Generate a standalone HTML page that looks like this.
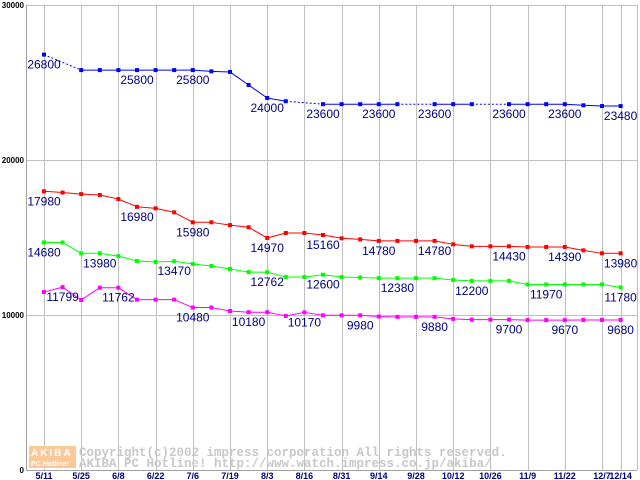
<!DOCTYPE html>
<html><head><meta charset="utf-8"><style>
body{margin:0;background:#fff;width:640px;height:480px;overflow:hidden}
svg{display:block}
</style></head><body>
<svg id="chart" width="640" height="480" xmlns="http://www.w3.org/2000/svg" font-family="Liberation Sans, sans-serif"></svg>
<script>
const xLabels=["5/11","5/25","6/8","6/22","7/6","7/19","8/3","8/16","8/31","9/14","9/28","10/12","10/26","11/9","11/22","12/7","12/14"];
const xLabelIdx=[0,2,4,6,8,10,12,14,16,18,20,22,24,26,28,30,31];
const yTicks=[0,10000,20000,30000];
const blue=[26800,null,25800,25800,25800,25800,25800,25800,25800,25720,25680,24840,24000,23790,null,23600,23600,23600,23600,23600,null,23600,23600,23600,null,23600,23600,23600,23600,23530,23480,23480];
const red=[17980,17900,17800,17740,17480,16980,16880,16620,15980,15980,15800,15660,14970,15290,15290,15160,14950,14880,14780,14780,14780,14780,14560,14430,14430,14430,14390,14390,14390,14170,13980,13980];
const green=[14680,14680,13980,13980,13800,13480,13420,13470,13290,13160,12970,12770,12762,12450,12450,12600,12450,12420,12380,12380,12380,12380,12260,12200,12200,12200,11970,11970,11970,11970,11970,11780];
const magenta=[11480,11799,10970,11762,11762,10990,10990,10990,10480,10480,10260,10180,10180,9940,10170,9980,9980,9980,9900,9880,9880,9880,9750,9700,9700,9700,9670,9670,9670,9680,9680,9680];
const blueLabelIdx=[0,5,8,12,15,18,21,25,28,31];
const blueLabels=["26800","25800","25800","24000","23600","23600","23600","23600","23600","23480"];
const redLabelIdx=[0,5,8,12,15,18,21,25,28,31];
const redLabels=["17980","16980","15980","14970","15160","14780","14780","14430","14390","13980"];
const greenLabelIdx=[0,3,7,12,15,19,23,27,31];
const greenLabels=["14680","13980","13470","12762","12600","12380","12200","11970","11780"];
const magentaLabelIdx=[1,4,8,11,14,17,21,25,28,31];
const magentaLabels=["11799","11762","10480","10180","10170","9980","9880","9700","9670","9680"];

const NS="http://www.w3.org/2000/svg";
const svg=document.getElementById('chart');
const X=i=>44+i*18.6;
const Y=v=>470-v*0.0155;
function mk(t,a,parent){const e=document.createElementNS(NS,t);for(const k in a)e.setAttribute(k,a[k]);(parent||svg).appendChild(e);return e;}

// grid
const grid=mk('g',{'shape-rendering':'crispEdges'});


xLabelIdx.forEach(i=>{mk('line',{x1:Math.round(X(i))+0.5,x2:Math.round(X(i))+0.5,y1:5,y2:470,stroke:'#c0c0c0','stroke-width':1},grid);});
mk('line',{x1:637.5,x2:637.5,y1:5,y2:470,stroke:'#c0c0c0'},grid);
yTicks.forEach(v=>{mk('line',{x1:26,x2:637,y1:Math.round(Y(v))+0.5,y2:Math.round(Y(v))+0.5,stroke:'#c0c0c0'},grid);});
mk('line',{x1:26.5,x2:26.5,y1:5,y2:470,stroke:'#a0a0a0'},grid);

// watermark
const wm=mk('g',{});


mk('rect',{x:29,y:446,width:47,height:22,fill:'#fbc89a'},wm);
let t=mk('text',{x:31,y:456,'font-size':10,'font-weight':'bold',fill:'#fff','letter-spacing':2},wm);t.textContent='AKIBA';
t=mk('text',{x:31,y:466,'font-size':7,'font-weight':'bold',fill:'#fff'},wm);t.textContent='PC Hotline!';
t=mk('text',{x:79,y:456,'font-size':12.5,'font-family':'Liberation Mono, monospace','font-weight':'bold',fill:'#c8c8c8'},wm);t.textContent='Copyright(c)2002 impress corporation All rights reserved.';
t=mk('text',{x:79,y:467,'font-size':12.5,'font-family':'Liberation Mono, monospace','font-weight':'bold',fill:'#c8c8c8'},wm);t.textContent='AKIBA PC Hotline!  http://www.watch.impress.co.jp/akiba/';

// axes labels
mk('line',{x1:26,x2:637,y1:470.5,y2:470.5,stroke:'#a0a0a0','shape-rendering':'crispEdges'});
yTicks.forEach(v=>{const e=mk('text',{x:24,y:Y(v)+3,'font-size':8,'font-weight':'bold','text-anchor':'end',fill:'#000'});e.textContent=v;

});
xLabels.forEach((s,k)=>{const e=mk('text',{x:X(xLabelIdx[k]),y:479,'font-size':9,'font-weight':'bold','text-anchor':'middle',fill:'#000080'});e.textContent=s;

});

function series(data,color,name,lIdx,lTxt){
  const g=mk('g',{});
  
  
  let prev=null;
  data.forEach((v,i)=>{
    if(v==null)return;
    if(prev!=null){
      const a={x1:X(prev),y1:Y(data[prev]),x2:X(i),y2:Y(v),stroke:color,'stroke-width':1};
      if(i-prev>1)a['stroke-dasharray']='2,2';
      mk('line',a,g);
    }
    prev=i;
  });
  data.forEach((v,i)=>{
    if(v==null)return;
    const p=mk('rect',{x:X(i)-2,y:Y(v)-2,width:4,height:4,fill:color},g);
    
    
  });
  lIdx.forEach((i,k)=>{
    const e=mk('text',{x:X(i),y:Y(data[i])+14,'font-size':12,'text-anchor':'middle',fill:'#000080'},g);
    e.textContent=lTxt[k];
    
    
  });
}
series(blue,'#0000ff','blue',blueLabelIdx,blueLabels);
series(red,'#ff0000','red',redLabelIdx,redLabels);
series(green,'#00ff00','green',greenLabelIdx,greenLabels);
series(magenta,'#ff00ff','magenta',magentaLabelIdx,magentaLabels);
</script>
</body></html>
